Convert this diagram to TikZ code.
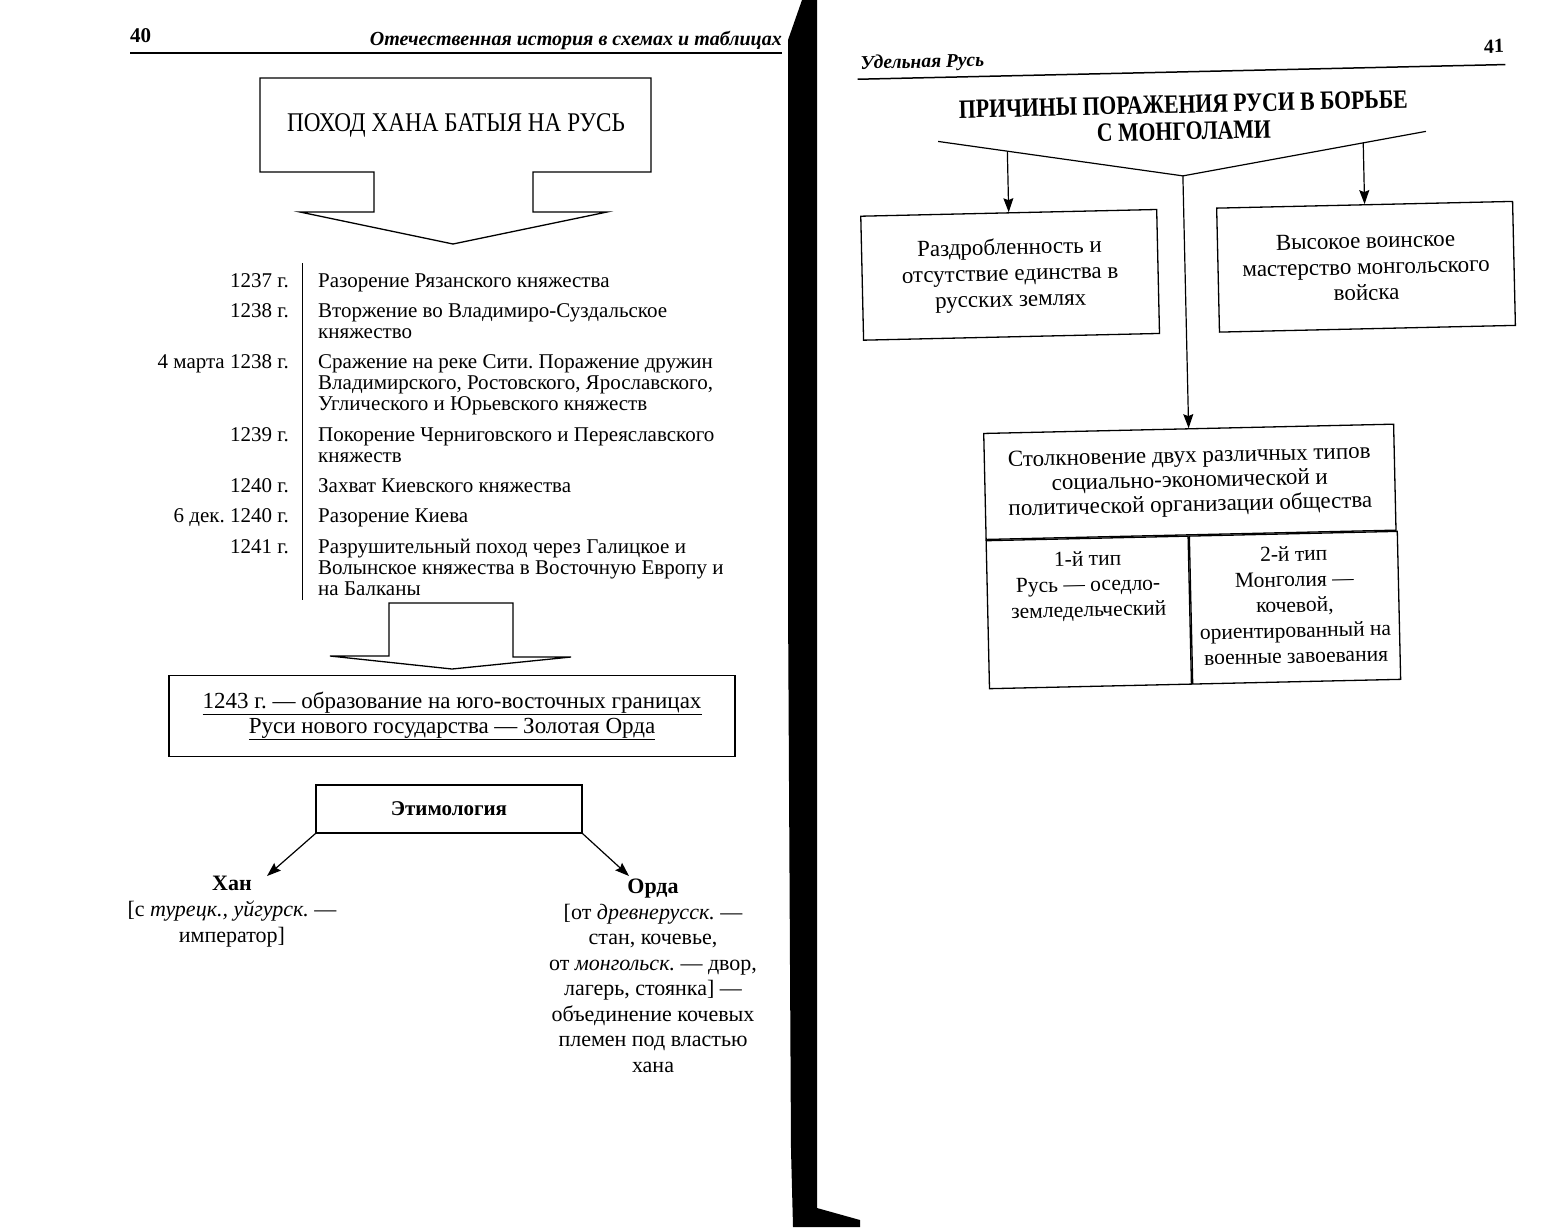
\documentclass[tikz,border=0pt]{standalone}
\usepackage{fontspec}
\usepackage{graphicx}
\setmainfont{Liberation Serif}
\frenchspacing
\usetikzlibrary{arrows.meta, positioning, calc}
\tikzset{
  frame/.style={rectangle, draw, line width=1.3pt, inner sep=0pt, align=center},
  bigarrow/.style={draw, line width=1.3pt, line join=miter},
  arrow/.style={-{Stealth[length=14pt, width=10pt, inset=2pt]}, line width=1.2pt},
  rule/.style={line width=1.5pt},
  datetxt/.style={anchor=base east, inner sep=0pt, font=\fontsize{21}{21}\selectfont},
  eventtxt/.style={anchor=base west, inner sep=0pt, align=left, font=\fontsize{21}{21}\selectfont},
  wordtxt/.style={anchor=base, inner sep=0pt, align=center},
  boxtxt/.style={font=\fontsize{23}{26}\selectfont},
  celltxt/.style={anchor=base, inner sep=0pt, align=center, font=\fontsize{21.5}{25.5}\selectfont},
}
% narrow heading lines
\newcommand{\narrowline}[2]{\scalebox{#1}[1]{#2}}

\begin{document}
\begin{tikzpicture}[x=1pt, y=-1pt]
  \useasboundingbox (0,0) rectangle (1552,1227);
  \fill[white] (0,0) rectangle (1552,1227);

  % Spine
  \fill[black] (802,0) -- (817,0) -- (817,1208) -- (860,1220) -- (860,1227)
    -- (793,1227) -- (791,1150) -- (788,600) -- (788,40) -- cycle;

  % Left page header
  \node[anchor=base west, inner sep=0pt, font=\fontsize{21}{21}\selectfont\bfseries] (pnumL) at (130,42) {40};
  \node[anchor=base east, inner sep=0pt, font=\fontsize{20}{20}\selectfont\bfseries\itshape] (headL) at (782,45) {Отечественная история в схемах и таблицах};
  \draw[rule] (130,53) -- (782,53);

  % Top block arrow
  \draw[bigarrow] (260,78) -- (651,78) -- (651,172) -- (533,172) -- (533,212) -- (607,212)
    -- (453,244) -- (300,212) -- (374,212) -- (374,172) -- (260,172) -- cycle;
  \node[font=\fontsize{27}{27}\selectfont] (march) at (456,125) {\narrowline{0.86}{ПОХОД ХАНА БАТЫЯ НА РУСЬ}};

  % Chronology (\nl = lines after the first)
  \draw[line width=1pt] (302,263) -- (302,600);
  \foreach \yb/\nl/\dt/\ev [count=\i] in {
    287/0/{1237 г.}/{Разорение Рязанского княжества},
    317/1/{1238 г.}/{Вторжение во Владимиро-Суздальское\\княжество},
    368/2/{4 марта 1238 г.}/{Сражение на реке Сити. Поражение дружин\\Владимирского, Ростовского, Ярославского,\\Углического и Юрьевского княжеств},
    441/1/{1239 г.}/{Покорение Черниговского и Переяславского\\княжеств},
    492/0/{1240 г.}/{Захват Киевского княжества},
    522/0/{6 дек. 1240 г.}/{Разорение Киева},
    553/2/{1241 г.}/{Разрушительный поход через Галицкое и\\Волынское княжества в Восточную Европу и\\на Балканы}}{
    \node[datetxt] (date\i) at (289,\yb) {\dt};
    \node[eventtxt] (event\i) at (318,{\yb+21*\nl}) {\ev};
  }

  % Lower block arrow
  \draw[bigarrow] (389,603) -- (513,603) -- (513,657) -- (571,657) -- (452,669)
    -- (330,656) -- (389,656) -- cycle;

  % Golden Horde
  \node[frame, minimum width=566, minimum height=81, font=\fontsize{23}{25}\selectfont] (horde) at (452,716)
    {\underline{1243 г. — образование на юго-восточных границах}\\\underline{Руси нового государства — Золотая Орда}};

  % Etymology
  \node[frame, minimum width=266, minimum height=48, font=\fontsize{21}{21}\selectfont\bfseries] (etym) at (449,809) {Этимология};
  \coordinate (khanTip) at (267,876);
  \coordinate (ordaTip) at (629,876);
  \draw[arrow] (etym.south west) -- (khanTip);
  \draw[arrow] (etym.south east) -- (ordaTip);
  \node[wordtxt, font=\fontsize{22}{26}\selectfont] (khan) at (232,942)
    {{\bfseries Хан}\\{[}с \textit{турецк., уйгурск.} —\\император]};
  \node[wordtxt, font=\fontsize{22}{25.5}\selectfont] (orda) at (653,1072)
    {{\bfseries Орда}\\{[}от \textit{древнерусск.} —\\стан, кочевье,\\от \textit{монгольск.} — двор,\\лагерь, стоянка] —\\объединение кочевых\\племен под властью\\хана};

  % Right page (scan is slightly tilted)
  \begin{scope}[rotate around={1.3:(1180,400)}, transform shape]
    \node[anchor=base west, inner sep=0pt, font=\fontsize{19.5}{20}\selectfont\bfseries\itshape] (headR) at (868,62) {Удельная Русь};
    \node[anchor=base east, inner sep=0pt, font=\fontsize{20}{20}\selectfont\bfseries] (pnumR) at (1512,60) {41};
    \draw[rule] (865,72) -- (1513,72);

    \node[align=center, inner sep=0pt, font=\fontsize{26.5}{27}\selectfont\bfseries] (causes) at (1190,118)
      {\narrowline{0.82}{ПРИЧИНЫ ПОРАЖЕНИЯ РУСИ В БОРЬБЕ}\\\narrowline{0.82}{С МОНГОЛАМИ}};

    % Fork
    \coordinate (forkL) at (944,136);
    \coordinate (forkJ) at (1188,176);
    \coordinate (forkR) at (1432,137);
    \draw[line width=1.2pt] (forkL) -- (forkJ) -- (forkR);

    \node[frame, boxtxt, minimum width=296, minimum height=124] (split) at (1013,271)
      {Раздробленность и\\отсутствие единства в\\русских землях};
    \node[frame, boxtxt, minimum width=296, minimum height=124] (skill) at (1369,271)
      {Высокое воинское\\мастерство монгольского\\войска};
    \draw[arrow] ($(forkL)!0.283!(forkJ)$) -- (split.north);
    \draw[arrow] ($(forkJ)!0.742!(forkR)$) -- (skill.north);

    % Table
    \node[frame, minimum width=410, minimum height=106, font=\fontsize{23}{24.5}\selectfont] (clash) at (1188,482)
      {Столкновение двух различных типов\\социально-экономической и\\политической организации общества};
    \draw[arrow] (forkJ) -- (clash.north);
    \node[frame, minimum width=202, minimum height=148, anchor=north west] (typeA) at (clash.south west) {};
    \node[frame, minimum width=208, minimum height=148, anchor=north west] (typeB) at (typeA.north east) {};
    \node[celltxt] (typeAtxt) at ($(typeA.north)+(0,79)$) {1-й тип\\Русь — оседло-\\земледельческий};
    \node[celltxt] (typeBtxt) at ($(typeB.north)+(0,130)$) {2-й тип\\Монголия —\\кочевой,\\ориентированный на\\военные завоевания};
  \end{scope}
\end{tikzpicture}
\end{document}
